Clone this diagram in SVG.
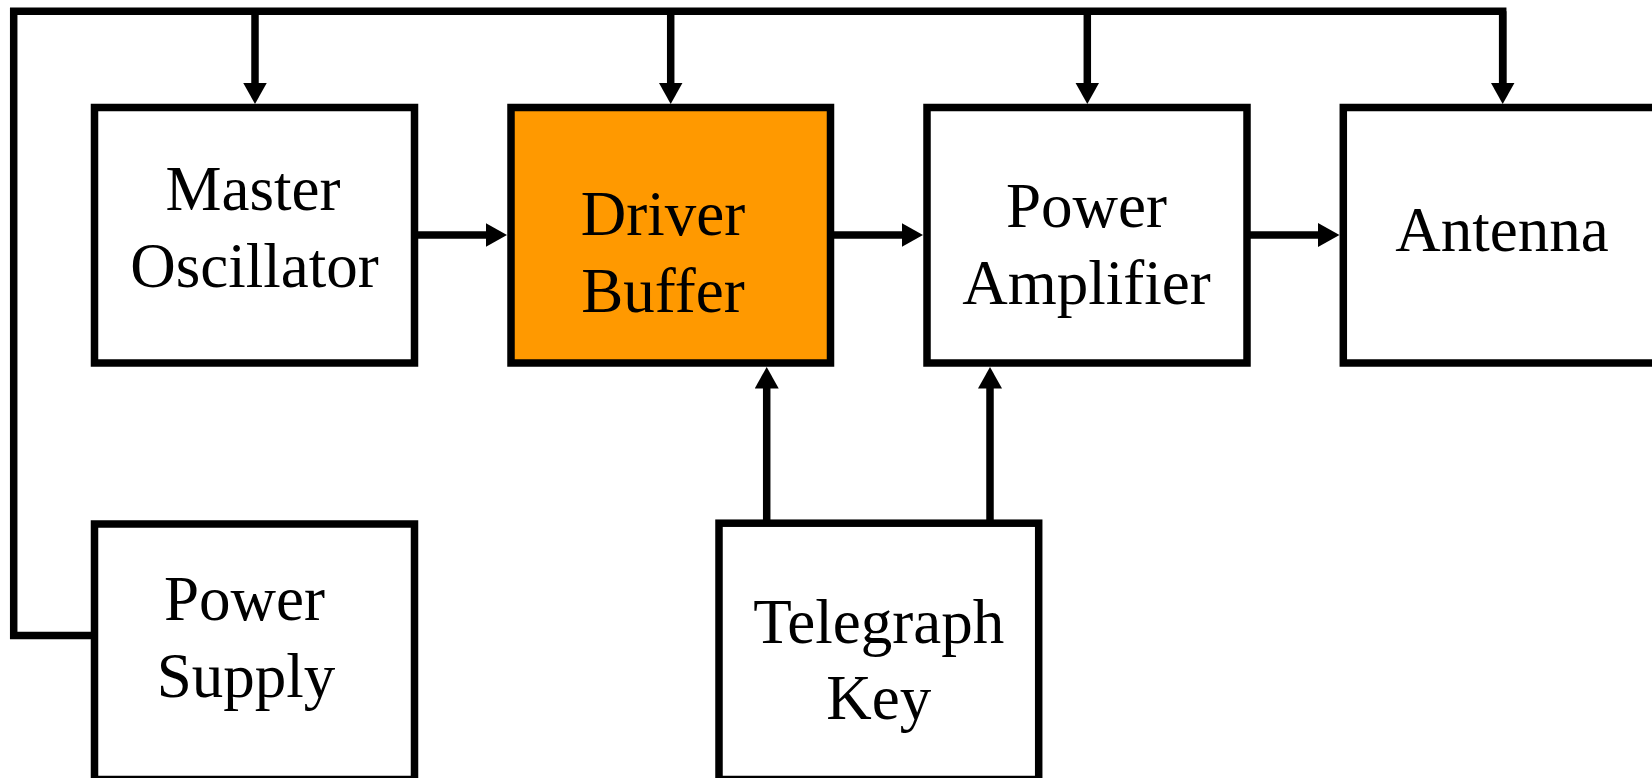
<svg xmlns="http://www.w3.org/2000/svg" width="1652" height="778" viewBox="0 0 1652 778">
<style>
.box{fill:#ffffff;stroke:#000000;stroke-width:7.5}
.hl{fill:#ff9900}
.lbl{font-family:"Liberation Serif","Times New Roman",serif;font-size:63px;fill:#000000;text-anchor:middle}
.wire{fill:none;stroke:#000000;stroke-width:7.5;stroke-linejoin:miter}
</style>
<defs>
<marker id="ah" markerUnits="userSpaceOnUse" markerWidth="22" markerHeight="24" refX="0.5" refY="12" orient="auto">
<path d="M0,0 L21.5,12 L0,24 Z" fill="#000000"/>
</marker>
</defs>
<rect width="1652" height="778" fill="#ffffff"/>
<g id="connectors">
<path class="wire" d="M91,635.5 H13.7 V11.2 H1502.7 V83"/>
<path class="wire" d="M1502.7,11.2 V83" marker-end="url(#ah)"/>
<path class="wire" d="M255,11.2 V83" marker-end="url(#ah)"/>
<path class="wire" d="M670.7,11.2 V83" marker-end="url(#ah)"/>
<path class="wire" d="M1087.3,11.2 V83" marker-end="url(#ah)"/>
<path class="wire" d="M414.5,235 H486" marker-end="url(#ah)"/>
<path class="wire" d="M830.5,235 H902" marker-end="url(#ah)"/>
<path class="wire" d="M1247,235 H1318.5" marker-end="url(#ah)"/>
<path class="wire" d="M766.7,523 V388" marker-end="url(#ah)"/>
<path class="wire" d="M990,523 V388" marker-end="url(#ah)"/>
</g>
<g id="master-oscillator">
<rect class="box" x="94.5" y="107.5" width="320" height="255.5"/>
<text class="lbl" x="253" y="210">Master</text>
<text class="lbl" x="254.5" y="287">Oscillator</text>
</g>
<g id="driver-buffer">
<rect class="box hl" x="511" y="107.5" width="319.5" height="255.5"/>
<text class="lbl" x="663" y="235">Driver</text>
<text class="lbl" x="663" y="311.5">Buffer</text>
</g>
<g id="power-amplifier">
<rect class="box" x="927" y="107.5" width="320" height="255.5"/>
<text class="lbl" x="1086.5" y="226.5">Power</text>
<text class="lbl" x="1086.5" y="303.5">Amplifier</text>
</g>
<g id="antenna">
<rect class="box" x="1343.3" y="107.5" width="330" height="255.5"/>
<text class="lbl" x="1502" y="250.5">Antenna</text>
</g>
<g id="power-supply">
<rect class="box" x="94.5" y="524" width="320" height="255.5"/>
<text class="lbl" x="244.5" y="619.5">Power</text>
<text class="lbl" x="246" y="696.5">Supply</text>
</g>
<g id="telegraph-key">
<rect class="box" x="719" y="523.2" width="319.7" height="256.3"/>
<text class="lbl" x="878.7" y="643.3">Telegraph</text>
<text class="lbl" x="878.8" y="719.3">Key</text>
</g>
</svg>
